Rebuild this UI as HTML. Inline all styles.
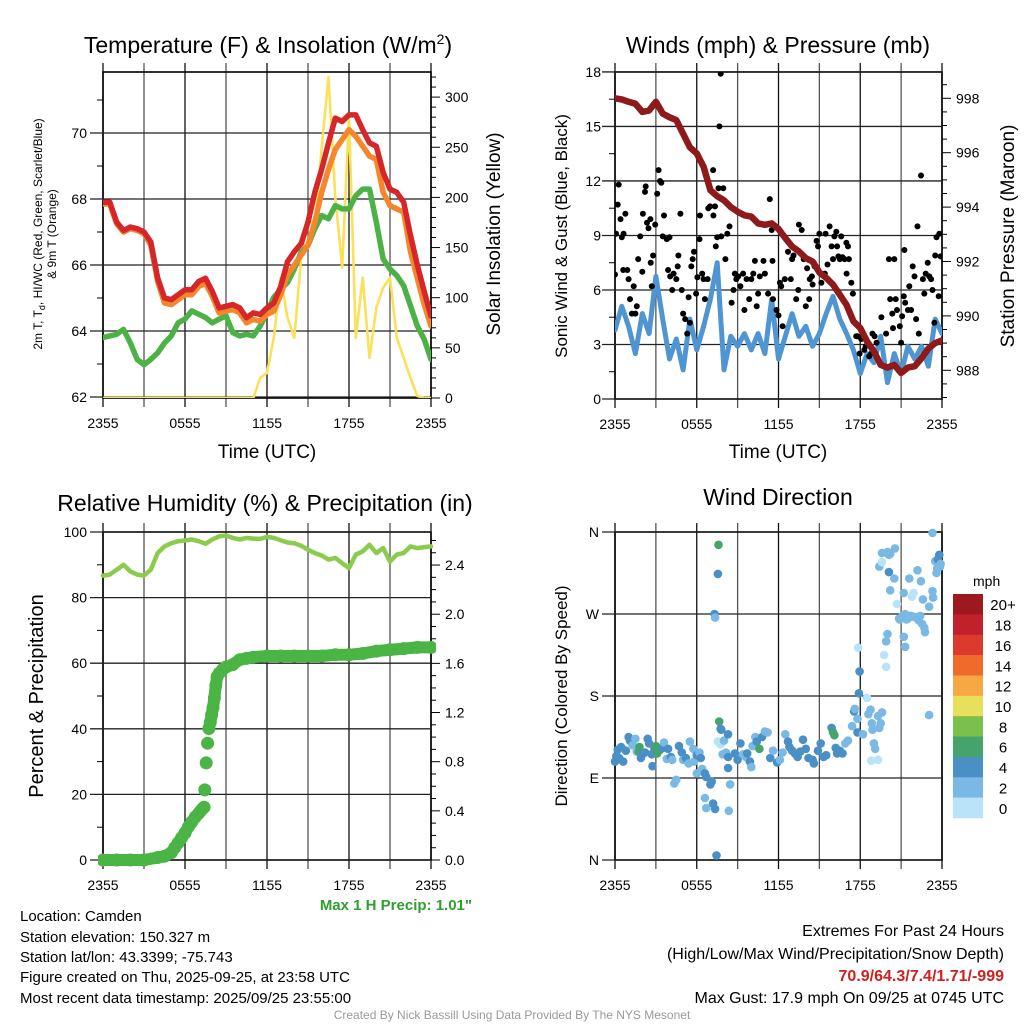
<!DOCTYPE html>
<html><head><meta charset="utf-8"><style>
html,body{margin:0;padding:0;background:#fff;}
svg{display:block;font-family:"Liberation Sans",sans-serif;}
</style></head><body>
<svg id="fig" xmlns="http://www.w3.org/2000/svg" width="1024" height="1024" viewBox="0 0 1024 1024">
<rect x="0" y="0" width="1024" height="1024" fill="#fff"/>
<text x="268" y="53" font-size="23" text-anchor="middle">Temperature (F) &amp; Insolation (W/m<tspan font-size="14" dy="-9">2</tspan><tspan dy="9">)</tspan></text>
<text x="778" y="53" font-size="23" text-anchor="middle">Winds (mph) &amp; Pressure (mb)</text>
<text x="265" y="511" font-size="23" text-anchor="middle">Relative Humidity (%) &amp; Precipitation (in)</text>
<text x="778" y="505" font-size="23" text-anchor="middle">Wind Direction</text>
<text x="267" y="458" font-size="19" text-anchor="middle">Time (UTC)</text>
<text x="778" y="458" font-size="19" text-anchor="middle">Time (UTC)</text>
<text transform="translate(42,234) rotate(-90)" font-size="12" text-anchor="middle">2m T, T<tspan font-size="9" dy="3">d</tspan><tspan dy="-3">, HI/WC (Red, Green, Scarlet/Blue)</tspan></text>
<text transform="translate(56,234) rotate(-90)" font-size="12" text-anchor="middle">&amp; 9m T (Orange)</text>
<text transform="translate(500,234) rotate(-90)" font-size="19" text-anchor="middle">Solar Insolation (Yellow)</text>
<text transform="translate(567,236) rotate(-90)" font-size="17" text-anchor="middle">Sonic Wind &amp; Gust (Blue, Black)</text>
<text transform="translate(1014,236) rotate(-90)" font-size="19" text-anchor="middle">Station Pressure (Maroon)</text>
<text transform="translate(43,696) rotate(-90)" font-size="20" text-anchor="middle">Percent &amp; Precipitation</text>
<text transform="translate(567,696) rotate(-90)" font-size="17" text-anchor="middle">Direction (Colored By Speed)</text>
<text x="472" y="910" font-size="15" font-weight="bold" fill="#2ea02e" text-anchor="end">Max 1 H Precip: 1.01"</text>
<g font-size="15">
<text x="20" y="921">Location: Camden</text>
<text x="20" y="942">Station elevation: 150.327 m</text>
<text x="20" y="962">Station lat/lon: 43.3399; -75.743</text>
<text x="20" y="982">Figure created on Thu, 2025-09-25, at 23:58 UTC</text>
<text x="20" y="1003">Most recent data timestamp: 2025/09/25 23:55:00</text>
</g>
<g font-size="16" text-anchor="end">
<text x="1004" y="936">Extremes For Past 24 Hours</text>
<text x="1004" y="959">(High/Low/Max Wind/Precipitation/Snow Depth)</text>
<text x="1004" y="981" font-weight="bold" fill="#d02020">70.9/64.3/7.4/1.71/-999</text>
<text x="1004" y="1003">Max Gust: 17.9 mph On 09/25 at 0745 UTC</text>
</g>
<text x="512" y="1019" font-size="12" fill="#999" text-anchor="middle">Created By Nick Bassill Using Data Provided By The NYS Mesonet</text>
<text x="973" y="586" font-size="14">mph</text>
<defs>
<clipPath id="c1"><rect x="103" y="72" width="328" height="326"/></clipPath>
<clipPath id="c2"><rect x="615" y="72" width="327" height="327"/></clipPath>
<clipPath id="c3"><rect x="98" y="527" width="338" height="340"/></clipPath>
<clipPath id="c4"><rect x="610" y="527" width="337" height="338"/></clipPath>
</defs>
</svg>
<script>
// ---- data ----
const halfHours = [];
for (let i = 0; i <= 48; i++) halfHours.push(i / 2);
const tempRed = [67.9,67.9,67.3,67.05,67.15,67.1,67.0,66.7,65.6,65.0,64.95,65.1,65.25,65.25,65.5,65.6,65.2,64.7,64.75,64.8,64.7,64.4,64.55,64.5,64.7,64.85,65.35,66.1,66.4,66.65,67.3,68.2,68.9,69.7,70.45,70.35,70.55,70.55,70.1,69.7,69.6,68.8,68.3,68.2,67.9,66.9,66.0,65.2,64.45];
const tempOrange = [67.85,67.85,67.25,67.0,67.1,67.05,66.95,66.6,65.5,64.85,64.8,64.95,65.1,65.1,65.35,65.45,65.05,64.55,64.6,64.65,64.55,64.25,64.35,64.3,64.5,64.6,65.1,65.7,66.0,66.3,66.6,67.3,68.2,68.9,69.5,69.8,70.1,69.9,69.6,69.3,69.2,68.2,67.8,67.7,67.6,66.4,65.6,64.8,64.15];
const dewGreen = [63.8,63.85,63.9,64.05,63.64,63.14,62.98,63.14,63.34,63.64,63.85,64.25,64.36,64.61,64.51,64.41,64.25,64.36,64.46,63.95,63.85,63.9,63.85,64.15,64.56,65.02,65.27,65.47,65.88,66.39,66.59,67.1,67.5,67.4,67.8,67.7,67.7,68.1,68.3,68.3,67.3,66.18,65.88,65.68,65.37,64.76,64.15,63.75,63.14];
const solar = [0,0,0,0,0,0,0,0,0,0,0,0,0,0,0,0,0,0,0,0,0,0,0,20,25,60,120,80,60,140,180,170,250,320,200,130,280,60,120,40,90,110,120,60,40,20,2,0,0];
const pressure = [998.0,997.96,997.87,997.8,997.5,997.55,997.87,997.44,997.3,997.2,996.7,996.2,995.97,995.48,994.62,994.4,994.25,994.0,993.83,993.7,993.65,993.4,993.35,993.4,993.2,992.86,992.55,992.37,992.12,992.0,991.6,991.4,991.15,990.78,990.4,989.8,989.55,989.06,988.7,988.2,988.1,988.2,987.9,988.1,988.15,988.45,988.8,989.0,989.1];
const windSpeed = [3.8,5.1,4.0,2.5,4.7,3.6,6.75,4.4,2.2,3.3,1.6,4.4,2.7,4.0,5.5,7.5,1.6,3.45,2.9,3.6,2.7,3.6,2.5,5.5,2.2,3.45,4.7,3.45,4.0,2.9,3.6,4.7,5.65,4.4,3.6,2.7,1.4,2.5,2.0,3.45,0.9,2.5,1.4,2.9,2.2,2.9,1.8,4.4,3.6];
const gustHour = [0,0.07,0.2,0.27,0.4,0.5,0.63,0.76,0.6,0.9,1.0,1.1,1.24,1.37,1.5,1.6,1.7,1.85,2.0,2.05,2.2,2.25,2.35,2.46,2.6,2.62,2.7,2.8,2.95,3.1,3.2,3.3,3.4,3.5,3.6,3.8,3.9,4.0,4.05,4.2,4.3,4.5,4.6,4.65,4.8,4.9,5.0,5.15,5.3,5.4,5.5,5.6,5.7,5.8,5.95,6.05,6.2,6.24,6.4,6.5,6.6,6.8,6.85,6.98,7.2,7.22,7.34,7.4,7.5,7.6,7.76,7.66,7.8,7.95,8.1,8.24,8.4,8.56,8.7,8.8,8.9,9.05,9.2,9.4,9.5,9.66,9.85,10.0,10.15,10.27,10.4,10.5,10.63,10.9,11.0,11.24,11.36,11.5,11.56,11.6,11.85,12.0,12.1,12.2,12.3,12.46,12.7,12.9,13.0,13.1,13.3,13.45,13.5,13.7,13.85,14.0,14.1,14.25,14.3,14.45,14.5,14.65,14.8,14.9,15.0,15.07,15.15,15.4,15.46,15.6,15.75,15.9,16.0,16.1,16.24,16.3,16.4,16.5,16.6,16.7,16.85,16.98,17.0,17.1,17.17,17.34,17.46,17.7,17.8,17.95,18.07,18.2,18.3,18.4,18.66,18.8,18.9,19.05,19.2,19.55,19.9,20.1,20.2,20.35,20.4,20.5,20.6,20.7,20.9,21.0,21.07,21.2,21.24,21.3,21.5,21.6,21.73,21.85,21.98,22.1,22.2,22.3,22.46,22.6,22.7,22.8,22.95,23.07,23.2,23.3,23.44,23.5,23.6,23.76,23.8,23.9];
const gustMph = [6.85,9.1,10.7,11.8,9.9,8.9,9.1,10.2,7.1,7.1,6.6,5.5,4.7,6.2,4.7,5.1,7.7,8.95,7.0,10.2,11.4,11.7,9.7,9.4,9.9,7.5,6.2,7.9,9.6,11.3,12.6,12.0,11.9,8.95,10.1,8.8,7.1,8.9,6.75,6.0,6.9,6.6,7.3,7.9,10.2,6.0,4.7,4.4,3.6,5.6,4.2,7.3,7.7,8.1,5.8,6.7,8.8,10.1,6.9,6.6,5.5,6.6,10.5,10.6,12.6,10.1,10.6,8.4,8.9,11.6,17.9,15.0,8.95,11.6,7.7,9.1,9.5,5.3,6.0,6.9,6.6,6.75,6.2,6.9,4.9,6.6,5.5,6.6,6.9,7.6,5.1,5.8,6.75,7.6,6.9,5.8,11.0,9.3,7.6,5.5,4.9,4.6,6.4,6.2,4.0,6.6,8.1,6.6,7.7,7.9,5.5,6.0,9.6,9.3,7.7,5.1,7.2,5.5,6.6,6.75,6.3,7.3,8.7,8.4,9.1,6.9,6.4,6.9,9.1,7.4,9.5,8.4,7.7,8.95,9.2,8.4,7.85,7.7,8.95,7.8,7.7,8.6,6.9,8.4,7.7,6.4,5.8,3.45,3.45,2.5,3.3,3.45,2.7,2.9,2.35,2.5,3.6,3.45,3.1,4.5,3.6,7.7,5.5,4.7,3.9,7.7,5.5,4.9,4.0,3.1,4.55,5.65,8.2,5.3,4.9,6.2,4.9,7.3,6.75,4.4,9.5,3.6,12.3,6.6,5.8,6.9,7.5,6.75,6.6,6.0,4.2,7.9,8.9,5.65,9.1,7.85];
const rh = [86.7,87.0,88.5,90.0,88.0,87.0,86.7,88.5,93.6,95.6,96.6,97.2,97.4,97.7,97.2,96.4,97.7,98.7,98.9,98.2,97.7,98.2,98.0,97.9,98.5,98.2,97.5,96.8,96.6,95.8,94.6,93.6,92.8,91.6,92.1,90.5,89.0,93.1,94.1,96.1,93.6,95.1,91.0,93.1,93.6,95.6,95.1,95.4,95.6];
const precipHour = [0,1,2,3,4,4.5,5,5.25,5.5,5.75,6,6.25,6.5,6.75,7,7.15,7.3,7.4,7.45,7.55,7.65,7.75,7.85,7.95,8.05,8.15,8.25,8.35,8.5,8.75,9,9.5,10,10.5,11,12,13,14,15,16,17,18,19,20,21,22,23,24];
const precipIn = [0,0,0,0,0.02,0.03,0.06,0.1,0.14,0.18,0.22,0.27,0.31,0.35,0.38,0.4,0.42,0.43,0.57,0.79,0.95,1.07,1.12,1.18,1.24,1.32,1.42,1.49,1.52,1.55,1.57,1.59,1.63,1.64,1.65,1.66,1.66,1.66,1.66,1.66,1.67,1.67,1.68,1.70,1.71,1.72,1.73,1.73];
const dirHour = [0,0.1,0.2,0.3,0.45,0.6,0.8,1.0,1.1,1.3,1.5,1.6,1.8,1.75,1.9,2.0,2.2,2.4,2.5,2.7,2.75,2.9,3.0,3.1,3.2,3.3,3.5,3.6,3.8,3.9,4.1,4.2,4.35,4.5,4.7,4.9,5.0,5.2,5.4,5.5,5.75,5.8,6.0,6.0,6.2,6.3,6.4,6.6,6.7,6.6,6.7,7.0,7.1,7.2,7.35,7.45,7.3,7.35,7.55,7.6,7.65,7.75,7.8,7.55,7.75,7.9,8.0,8.15,8.3,8.3,8.3,8.45,8.35,8.8,9.0,9.2,9.4,9.6,9.7,9.9,10.0,10.1,10.3,10.4,10.6,10.8,11.0,11.2,11.4,11.6,11.9,12.1,12.3,12.5,12.7,12.8,13.0,13.2,13.4,13.6,13.8,14.0,14.2,14.5,14.6,14.9,15.1,15.3,15.5,15.9,16.0,16.1,16.2,16.3,16.5,16.7,16.9,17.1,17.4,17.55,17.6,17.8,17.8,17.9,17.95,17.85,18.2,18.5,18.6,18.75,18.85,18.9,19.0,19.1,19.3,19.4,18.8,19.3,19.6,19.5,19.9,19.75,19.9,20.0,19.4,19.6,19.6,20.0,20.1,20.2,20.55,20.1,20.5,20.2,20.7,20.85,20.9,21.1,21.3,21.4,21.5,21.7,21.9,22.1,22.3,22.4,22.55,22.7,22.75,21.2,21.3,21.2,21.6,21.8,21.9,22.2,22.45,22.6,23.05,23.3,23.35,23.3,23.05,23.5,23.65,23.8,23.85,23.7,23.6,23.9];
const dirDeg = [108,114,121,112,124,108,120,135,131,126,133,119,124,119,112,116,118,133,128,116,103,122,125,117,120,121,123,129,111,122,113,110,84,88,125,118,110,112,106,130,122,108,115,95,118,112,100,95,91,68,57,83,86,62,56,5,270,266,314,346,152,144,143,130,127,116,131,118,138,113,101,83,54,117,110,128,116,113,117,108,102,125,135,130,122,135,141,140,112,120,107,110,118,138,130,124,120,117,113,119,132,122,112,110,106,120,128,113,115,145,140,137,123,117,120,117,128,131,147,163,166,140,155,183,207,233,138,178,160,165,150,143,128,122,158,145,109,110,162,150,240,225,212,248,322,337,327,338,335,336,342,316,309,296,281,265,264,268,270,264,265,268,267,266,263,268,259,255,250,245,234,293,309,289,293,318,306,286,278,295,288,359,159,328,320,335,322,330,315,325];
const dirSpeed = [4,4,4,4,4,4,4,4,4,2,2,2,6,6,4,4,4,4,4,4,4,4,6,6,6,6,4,2,2,4,4,2,2,2,4,4,2,4,2,2,2,2,4,2,2,4,2,4,4,2,2,4,4,4,4,4,4,2,4,6,6,4,4,0.5,0.5,2,2,2,4,4,4,2,2,4,4,4,2,2,4,4,2,2,2,4,6,4,2,2,4,2,4,2,2,2,4,4,4,4,4,4,4,4,4,4,4,4,4,4,4,4,6,6,4,4,4,4,2,2,2,4,2,4,2,4,4,0.5,2,0.5,2,2,2,2,2,2,2,2,0.5,0.5,2,2,2,0.5,0.5,2,2,2,0.5,2,2,2,2,4,2,2,0.5,2,2,2,2,2,2,2,2,2,2,2,2,2,2,2,2,2,2,0.5,0.5,2,2,2,2,2,2,2,2,2,2,4,2,4,2,2,2];
const speedColors = ['#b8e3f8','#7ab9e4','#4a8fc6','#45a36c','#7cc04c','#e8e05c','#f7a744','#f06a2c','#dc3a2c','#c2202a','#9c1a1e'];
const cbLabels = ['20+','18','16','14','12','10','8','6','4','2','0'];
const p1LeftTicks = [62,64,66,68,70];
const p1RightTicks = [0,50,100,150,200,250,300];
const p2LeftTicks = [0,3,6,9,12,15,18];
const p2RightTicks = [988,990,992,994,996,998];
const p3LeftTicks = [0,20,40,60,80,100];
const p3RightTicks = [0.0,0.4,0.8,1.2,1.6,2.0,2.4];
const dirTickDeg = [0,90,180,270,360];
const dirTickLabels = ['N','E','S','W','N'];
const timeTickHours = [0,6,12,18,24];
const timeTickLabels = ['2355','0555','1155','1755','2355'];

// ---- scales ----
const P = {
  a:{x0:103,x1:431,y0:72,y1:398},
  b:{x0:615,x1:942,y0:72,y1:399},
  c:{x0:103,x1:431,y0:532,y1:860},
  d:{x0:615,x1:942,y0:532,y1:860}
};
const xs = (p,h) => p.x0 + h*(p.x1-p.x0)/24;
const yTemp = t => 397 - (t-62)*33;
const ySolar = w => 398 - w*1.003;
const yWind = m => 399 - m*18.17;
const yPres = pr => 98.3 + (998-pr)*27.2;
const yRH = r => 860 - r*3.28;
const yPrecip = v => 860 - v*122.9;
const yDir = d => 860 - d*328/360;
const speedColor = s => speedColors[Math.min(10, Math.floor(s/2))];

const NS='http://www.w3.org/2000/svg';
const svg=document.getElementById('fig');
function mk(tag, attrs, parent){const e=document.createElementNS(NS,tag);for(const k in attrs)e.setAttribute(k,attrs[k]);(parent||svg).appendChild(e);return e;}
function txt(x,y,s,size,anchor,parent){const e=mk('text',{x:x,y:y,'font-size':size,'text-anchor':anchor||'middle'},parent);e.textContent=s;return e;}

function frame(p, key){
  const g=mk('g',{});
  
  
  for(let h=0;h<=24;h+=3){
    const x=xs(p,h);
    const l=mk('line',{x1:x,x2:x,y1:p.y0-9,y2:p.y1+9,stroke:(h%6===0)?'#111':'#555','stroke-width':1.3},g);
    
    
  }
  const r=mk('rect',{x:p.x0,y:p.y0,width:p.x1-p.x0,height:p.y1-p.y0,fill:'none',stroke:'#000','stroke-width':1.6},g);
  
  
  timeTickHours.forEach((h,i)=>{
    const t=txt(xs(p,h),p.y1+30,timeTickLabels[i],14,'middle',g);
    
    
  });
  return g;
}
function hgrid(p,g,y,major){
  const l=mk('line',{x1:p.x0-(major?13:6),x2:p.x1,y1:y,y2:y,stroke:major?'#222':'#000','stroke-width':major?1.3:1},g);
  if(!major){l.setAttribute('x2',p.x0);}
  
  
}
function rtick(p,g,y,len){
  const l=mk('line',{x1:p.x1,x2:p.x1+len,y1:y,y2:y,stroke:'#000','stroke-width':1},g);
  
  
}
function line(xsArr, ysArr, color, w, clip, name){
  const pts=xsArr.map((x,i)=>x.toFixed(1)+','+ysArr[i].toFixed(1)).join(' ');
  const e=mk('polyline',{points:pts,fill:'none',stroke:color,'stroke-width':w,'stroke-linejoin':'round','stroke-linecap':'round','clip-path':'url(#'+clip+')'});
  
  
  return e;
}

// ---- Panel A: temperature ----
{
  const p=P.a, g=frame(p,'temperature');
  for(let t=62;t<=71;t+=1){hgrid(p,g,yTemp(t),t%2===0);}
  p1LeftTicks.forEach(t=>{const e=txt(p.x0-16,yTemp(t)+5,String(t),14,'end',g);
    
    });
  for(let w=0;w<=320;w+=10){rtick(p,g,ySolar(w),w%50===0?9:5);}
  p1RightTicks.forEach(w=>{const e=txt(p.x1+14,ySolar(w)+5,String(w),14,'start',g);
    
    });
  const hx=halfHours.map(h=>xs(p,h));
  line(hx, solar.map(ySolar), '#fbe15a', 2.6, 'c1', 'solar-insolation-line');
  line(hx, dewGreen.map(yTemp), '#4cb246', 5.5, 'c1', 'dewpoint-line');
  line(hx, tempOrange.map(yTemp), '#f5862c', 5.5, 'c1', 'temperature-9m-line');
  line(hx, tempRed.map(yTemp), '#d5262a', 5.5, 'c1', 'temperature-2m-line');
}

// ---- Panel B: winds & pressure ----
{
  const p=P.b, g=frame(p,'winds');
  for(let m=0;m<=18;m+=1.5){hgrid(p,g,yWind(m),m%3===0);}
  p2LeftTicks.forEach(m=>{const e=txt(p.x0-14,yWind(m)+5,String(m),14,'end',g);
    
    });
  for(let pr=987;pr<=999;pr+=0.5){const y=yPres(pr);if(y>=p.y0&&y<=p.y1)rtick(p,g,y,pr%2===0?9:5);}
  p2RightTicks.forEach(pr=>{const e=txt(p.x1+14,yPres(pr)+5,String(pr),14,'start',g);
    
    });
  const hx=halfHours.map(h=>xs(p,h));
  line(hx, windSpeed.map(yWind), '#4f95d2', 5, 'c2', 'sonic-wind-line');
  const gg=mk('g',{'clip-path':'url(#c2)'});
  
  
  gustHour.forEach((h,i)=>{
    const c=mk('circle',{cx:xs(p,h).toFixed(1),cy:yWind(gustMph[i]).toFixed(1),r:3,fill:'#000'},gg);
    
    
  });
  line(hx, pressure.map(yPres), '#8e1a1c', 6.5, 'c2', 'station-pressure-line');
}

// ---- Panel C: RH & precip ----
{
  const p=P.c, g=frame(p,'humidity');
  for(let r=0;r<=100;r+=10){hgrid(p,g,yRH(r),r%20===0);}
  p3LeftTicks.forEach(r=>{const e=txt(p.x0-16,yRH(r)+5,String(r),14,'end',g);
    
    });
  for(let v=0;v<=2.65;v+=0.1){rtick(p,g,yPrecip(v),Math.round(v*10)%4===0?9:5);}
  p3RightTicks.forEach(v=>{const e=txt(p.x1+14,yPrecip(v)+5,v.toFixed(1),14,'start',g);
    
    });
  const hx=halfHours.map(h=>xs(p,h));
  line(hx, rh.map(yRH), '#8dcb4e', 4.5, 'c3', 'relative-humidity-line');
  const pg=mk('g',{'clip-path':'url(#c3)'});
  
  
  for(let i=0;i<precipHour.length;i++){
    const x=xs(p,precipHour[i]), y=yPrecip(precipIn[i]);
    if(i>0){
      const x0=xs(p,precipHour[i-1]), y0=yPrecip(precipIn[i-1]);
      if(Math.abs(y-y0)<14){
        const s=mk('line',{x1:x0,y1:y0,x2:x,y2:y,stroke:'#4ab545','stroke-width':12,'stroke-linecap':'round'},pg);
        
        
      }
    }
    const c=mk('circle',{cx:x.toFixed(1),cy:y.toFixed(1),r:6.5,fill:'#4ab545'},pg);
    
    
  }
}

// ---- Panel D: wind direction ----
{
  const p=P.d, g=frame(p,'direction');
  dirTickDeg.forEach((d,i)=>{hgrid(p,g,yDir(d),true);
    const e=txt(p.x0-16,yDir(d)+5,dirTickLabels[i],14,'end',g);
    
    });
  const dg=mk('g',{'clip-path':'url(#c4)'});
  
  
  dirHour.forEach((h,i)=>{
    const c=mk('circle',{cx:xs(p,h).toFixed(1),cy:yDir(dirDeg[i]).toFixed(1),r:4.3,fill:speedColor(dirSpeed[i])},dg);
    
    
  });
  const cb=mk('g',{});
  
  
  const top=594, bh=(818-594)/11;
  cbLabels.forEach((lab,i)=>{
    const r=mk('rect',{x:953,y:top+i*bh,width:30,height:bh+0.3,fill:speedColors[10-i]},cb);
    
    
    const t=txt(1003,top+i*bh+bh/2+6,lab,15,'middle',cb);
    
    
  });
}
</script>
</body></html>
